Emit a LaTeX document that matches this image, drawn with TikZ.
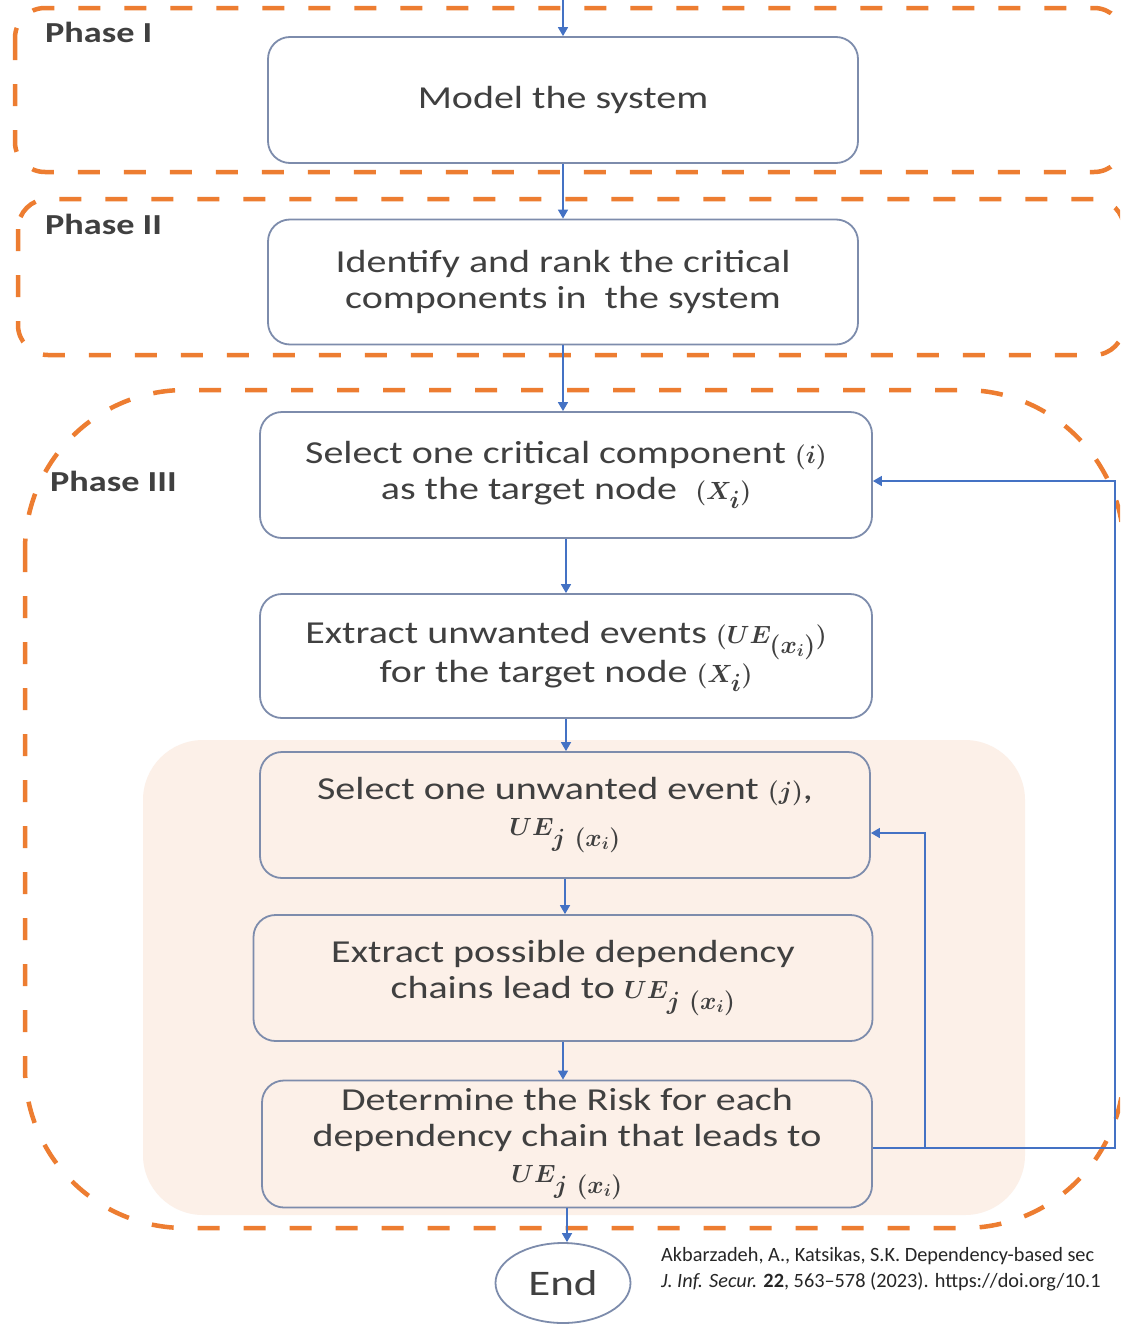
\documentclass[tikz,border=0pt]{standalone}
\usepackage{fontspec}
\usepackage{bm}
\setmainfont{Carlito}[FakeStretch=1.25]
\newfontfamily\citefont{Carlito}
\DeclareMathSizes{32}{36}{23}{18}
\usetikzlibrary{arrows.meta,calc,shapes.geometric}
\definecolor{orng}{RGB}{237,125,49}
\definecolor{boxc}{RGB}{125,140,172}
\definecolor{arrc}{RGB}{68,114,196}
\definecolor{txt}{RGB}{64,64,64}
\definecolor{peach}{RGB}{252,240,232}
\tikzset{
 box/.style={draw=boxc, line width=1.8pt, rounded corners=22pt, fill=white, align=center,
   font=\fontsize{32}{36}\selectfont, text=txt, inner sep=0pt},
 pbox/.style={box, fill=peach},
 phase/.style={draw=orng, line width=4.5pt, dash pattern=on 22pt off 24pt},
 arr/.style={draw=arrc, line width=1.6pt, -{Triangle[width=10pt,length=9pt]}},
 lbl/.style={font=\fontsize{29}{32}\selectfont\bfseries, text=txt, anchor=west, inner sep=0pt}
}
\begin{document}
\begin{tikzpicture}[x=1pt,y=-1pt]
\useasboundingbox (0,0) rectangle (1120,1325);
\clip (0,0) rectangle (1120,1325);
\fill[white] (0,0) rectangle (1120,1325);
% peach background
\fill[peach, rounded corners=60pt] (143,740) rectangle (1025,1215);
% phase frames
\draw[phase, rounded corners=30pt] (15,8) rectangle (1124,172);
\draw[phase, rounded corners=30pt] (18,199) rectangle (1124,355);
\draw[phase, rounded corners=160pt] (25,390) rectangle (1124,1228);
\node[lbl] (p1) at (45,32) {Phase I};
\node[lbl] (p2) at (45,224) {Phase II};
\node[lbl] (p3) at (50,481) {Phase III};
% boxes
\node[box, minimum width=590pt, minimum height=126pt] (b1) at (563,100) {Model the system};
\node[box, minimum width=590pt, minimum height=125pt] (b2) at (563,282) {Identify and rank the critical\\ components in\ \ the system};
\node[box, minimum width=612pt, minimum height=126pt] (b3) at (566,475) {Select one critical component $\bm{(i)}$\\ as the target node\ \ $\bm{(X_i)}$};
\node[box, minimum width=612pt, minimum height=124pt] (b4) at (566,656) {Extract unwanted events $\bm{(UE_{(x_i)})}$\\ for the target node $\bm{(X_i)}$};
\node[pbox, minimum width=610pt, minimum height=126pt] (b5) at (565,815) {Select one unwanted event $\bm{(j)}$,\\ $\bm{UE_{j\ (x_i)}}$};
\node[pbox, minimum width=619pt, minimum height=126pt] (b6) at (563,978) {Extract possible dependency\\ chains lead to $\bm{UE_{j\ (x_i)}}$};
\node[pbox, minimum width=610pt, minimum height=127pt] (b7) at (567,1144) {Determine the Risk for each\\ dependency chain that leads to\\ $\bm{UE_{j\ (x_i)}}$};
\node[draw=boxc, line width=1.8pt, ellipse, fill=white, minimum width=135pt, minimum height=80pt,
  font=\fontsize{36}{40}\selectfont, text=txt, inner sep=0pt] (end) at (563,1283) {End};
\node[anchor=north west, align=left, inner sep=0pt, text=black!85,
  font=\citefont\fontsize{20.3}{26}\selectfont] (cite) at (661,1247)
  {Akbarzadeh, A., Katsikas, S.K. Dependency-based sec\\ \textit{J. Inf. Secur.} \textbf{22}, 563–578 (2023). https://doi.org/10.1};
% connectors
\coordinate (top) at (563,0);
\draw[arr] (top) -- (b1.north);
\draw[arr] (b1.south) -- (b1.south |- b2.north);
\draw[arr] (b2.south) -- (b2.south |- b3.north);
\draw[arr] (b3.south) -- (b3.south |- b4.north);
\draw[arr] (b4.south) -- (b4.south |- b5.north);
\draw[arr] (b5.south) -- (b5.south |- b6.north);
\draw[arr] (b6.south) -- (b6.south |- b7.north);
\draw[arr] (b7.south) -- (b7.south |- end.north);
\coordinate (j1) at (925,1148);
\coordinate (r1) at (1115,1148);
\draw[arr] (b7.east |- j1) -- (j1) |- ($(b5.east)+(0,18)$);
\draw[arr] (j1) -- (r1) |- ($(b3.east)+(0,6)$);
\end{tikzpicture}
\end{document}
